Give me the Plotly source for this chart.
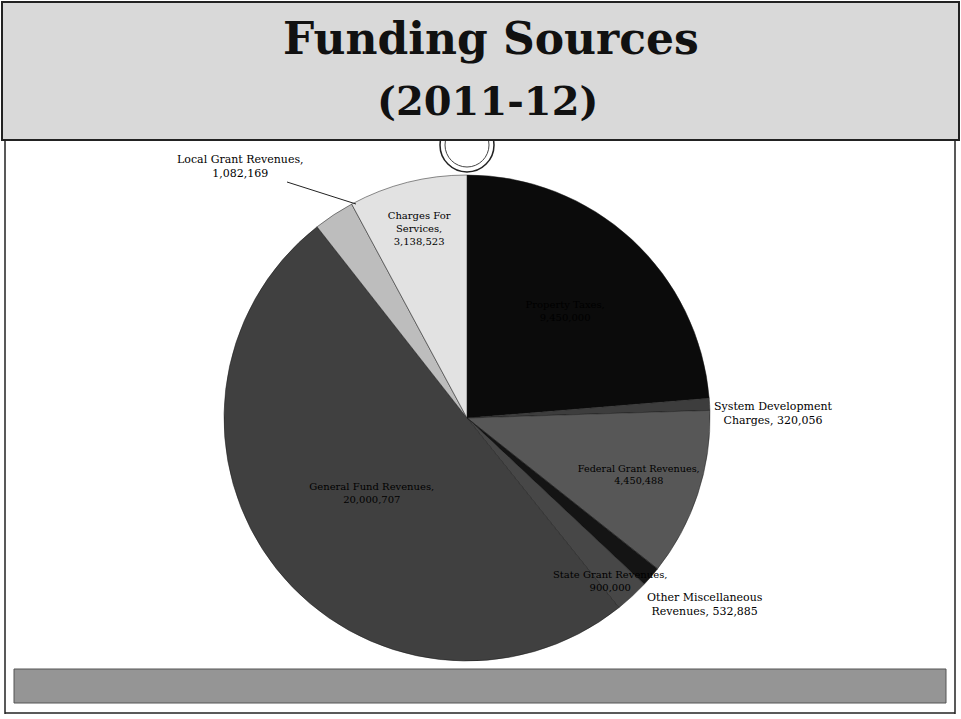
import plotly.graph_objects as go

W, H = 961, 719

# ---- data ----
categories = [
    "Property Taxes",
    "System Development Charges",
    "Federal Grant Revenues",
    "Other Miscellaneous Revenues",
    "State Grant Revenues",
    "General Fund Revenues",
    "Local Grant Revenues",
    "Charges For Services",
]
values = [9450000, 320056, 4450488, 532885, 900000, 20000707, 1082169, 3138523]
display_names = [
    "Property Taxes,<br>",
    "System Development<br>Charges, ",
    "Federal Grant Revenues,<br>",
    "Other Miscellaneous<br>Revenues, ",
    "State Grant Revenues,<br>",
    "General Fund Revenues,<br>",
    "Local Grant Revenues,<br>",
    "Charges For<br>Services,<br>",
]
slice_colors = ["#0b0b0b", "#3d3d3d", "#575757", "#141414",
                "#474747", "#404040", "#bdbdbd", "#e2e2e2"]
text_positions = ["inside", "none", "inside", "none",
                  "none", "inside", "none", "inside"]

texts = [f"{n}{v:,}" for n, v in zip(display_names, values)]

SERIF = "DejaVu Serif, Liberation Serif, serif"


def px(x):
    return x / W


def py(y):
    return 1 - y / H


fig = go.Figure()
fig.add_trace(go.Pie(
    labels=categories,
    values=values,
    text=texts,
    texttemplate="%{text}",
    textposition=text_positions,
    sort=False,
    direction="clockwise",
    rotation=0,
    marker=dict(colors=slice_colors, line=dict(color="#1a1a1a", width=0.5)),
    insidetextfont=dict(family=SERIF, size=10, color="#000000"),
    insidetextorientation="horizontal",
    showlegend=False,
    domain=dict(x=[px(224), px(710)], y=[py(661), py(175)]),
    hoverinfo="label+value+percent",
))

shapes = []
# ornament circles under header line
shapes.append(dict(type="circle", xref="paper", yref="paper",
                   x0=px(440), x1=px(494), y0=py(172), y1=py(118),
                   line=dict(color="#222", width=1.5), fillcolor="white", layer="below"))
shapes.append(dict(type="circle", xref="paper", yref="paper",
                   x0=px(445), x1=px(489), y0=py(167), y1=py(123),
                   line=dict(color="#444", width=1), fillcolor="white", layer="below"))
# header band
shapes.append(dict(type="rect", xref="paper", yref="paper",
                   x0=px(2), x1=px(959), y0=py(140), y1=py(2),
                   line=dict(color="#222", width=2), fillcolor="#d9d9d9", layer="below"))
# slide frame lines
for x in (5, 955):
    shapes.append(dict(type="line", xref="paper", yref="paper",
                       x0=px(x), x1=px(x), y0=py(140), y1=py(714),
                       line=dict(color="#222", width=1.5)))
shapes.append(dict(type="line", xref="paper", yref="paper",
                   x0=px(5), x1=px(955), y0=py(713), y1=py(713),
                   line=dict(color="#222", width=1.5)))
# bottom band
shapes.append(dict(type="rect", xref="paper", yref="paper",
                   x0=px(14), x1=px(946), y0=py(703), y1=py(669),
                   line=dict(color="#555", width=1), fillcolor="#959595", layer="below"))

label_font = dict(family=SERIF, size=11, color="#000")
annotations = [
    dict(text="<b>Funding Sources</b>", x=px(491), y=py(39), xref="paper", yref="paper",
         showarrow=False, xanchor="center", yanchor="middle",
         font=dict(family="DejaVu Serif, serif", size=44, color="#111")),
    dict(text="<b>(2011-12)</b>", x=px(487), y=py(101), xref="paper", yref="paper",
         showarrow=False, xanchor="center", yanchor="middle",
         font=dict(family="DejaVu Serif, serif", size=40, color="#111")),
    # Local Grant Revenues label with leader line
    dict(text=texts[6], x=px(356), y=py(204), xref="paper", yref="paper",
         showarrow=True, arrowhead=0, arrowwidth=1, arrowcolor="#222",
         ax=-116, ay=-37, font=label_font, align="center"),
    # System Development Charges label
    dict(text=texts[1], x=px(712), y=py(414), xref="paper", yref="paper",
         showarrow=False, xanchor="left", yanchor="middle",
         font=label_font, align="center"),
    # Other Miscellaneous Revenues label
    dict(text=texts[3], x=px(645), y=py(604), xref="paper", yref="paper",
         showarrow=False, xanchor="left", yanchor="middle",
         font=label_font, align="center"),
    # State Grant Revenues label (inside near edge)
    dict(text=texts[4], x=px(610), y=py(581), xref="paper", yref="paper",
         showarrow=False, xanchor="center", yanchor="middle",
         font=dict(family=SERIF, size=10, color="#000"), align="center"),
]

fig.update_layout(
    width=W, height=H,
    margin=dict(l=0, r=0, t=0, b=0),
    paper_bgcolor="white",
    plot_bgcolor="white",
    shapes=shapes,
    annotations=annotations,
)

fig.write_html("out.html")
